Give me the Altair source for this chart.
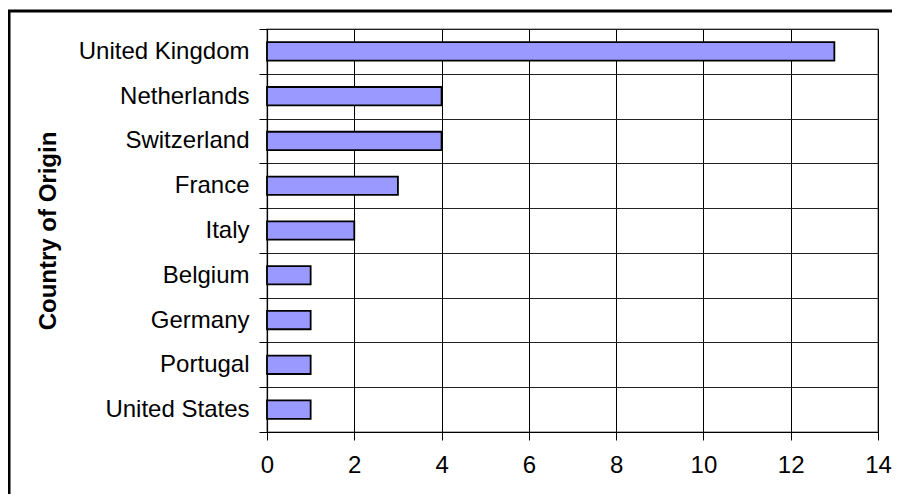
import altair as alt
import pandas as pd

countries = ["United Kingdom", "Netherlands", "Switzerland", "France", "Italy",
             "Belgium", "Germany", "Portugal", "United States"]
counts = [13, 4, 4, 3, 2, 1, 1, 1, 1]
x_ticks = [0, 2, 4, 6, 8, 10, 12, 14]

df = pd.DataFrame({"country": countries, "count": counts})

W, H = 611, 403
FONT = "Liberation Sans"

bars = alt.Chart(df).mark_bar(
    color="#9999FF", stroke="#000000", strokeWidth=1.8,
    height=alt.RelativeBandSize(band=0.41)
).encode(
    x=alt.X("count:Q",
            scale=alt.Scale(domain=[0, 14], nice=False, zero=True),
            axis=alt.Axis(values=x_ticks, title=None, grid=True, gridColor="#000000",
                          gridOpacity=1, gridWidth=1, tickColor="#000000", tickSize=8,
                          domainColor="#000000", domainWidth=1.2, labelFontSize=24,
                          labelFont=FONT, labelColor="#000000", labelPadding=13,
                          labelFlush=False)),
    y=alt.Y("country:N", sort=countries,
            scale=alt.Scale(paddingInner=0, paddingOuter=0),
            axis=alt.Axis(title="Country of Origin", tickBand="extent", grid=True,
                          gridColor="#222222", gridOpacity=1, gridWidth=1,
                          tickColor="#000000", tickSize=8, domainColor="#000000",
                          domainWidth=1.2, labelFontSize=24, labelFont=FONT,
                          labelColor="#000000", labelPadding=10,
                          titleFontSize=24, titleFont=FONT, titleFontWeight="bold",
                          titleColor="#000000", titlePadding=18)),
)

frame_df = pd.DataFrame({"k": [0]})
frame = alt.Chart(frame_df).mark_rect(
    fill=None, stroke="#000000", strokeWidth=3, clip=False
).encode(
    x=alt.value(-258), x2=alt.value(660),
    y=alt.value(-18), y2=alt.value(500),
)

chart = alt.layer(bars, frame).properties(
    width=W, height=H,
    autosize=alt.AutoSizeParams(type="none"),
    padding={"left": 259, "top": 21, "right": 14, "bottom": 62},
    background="#FFFFFF",
).configure_view(stroke="#999999", strokeWidth=1.5)

chart.save("out.html", embed_options={"renderer": "svg", "actions": False})
